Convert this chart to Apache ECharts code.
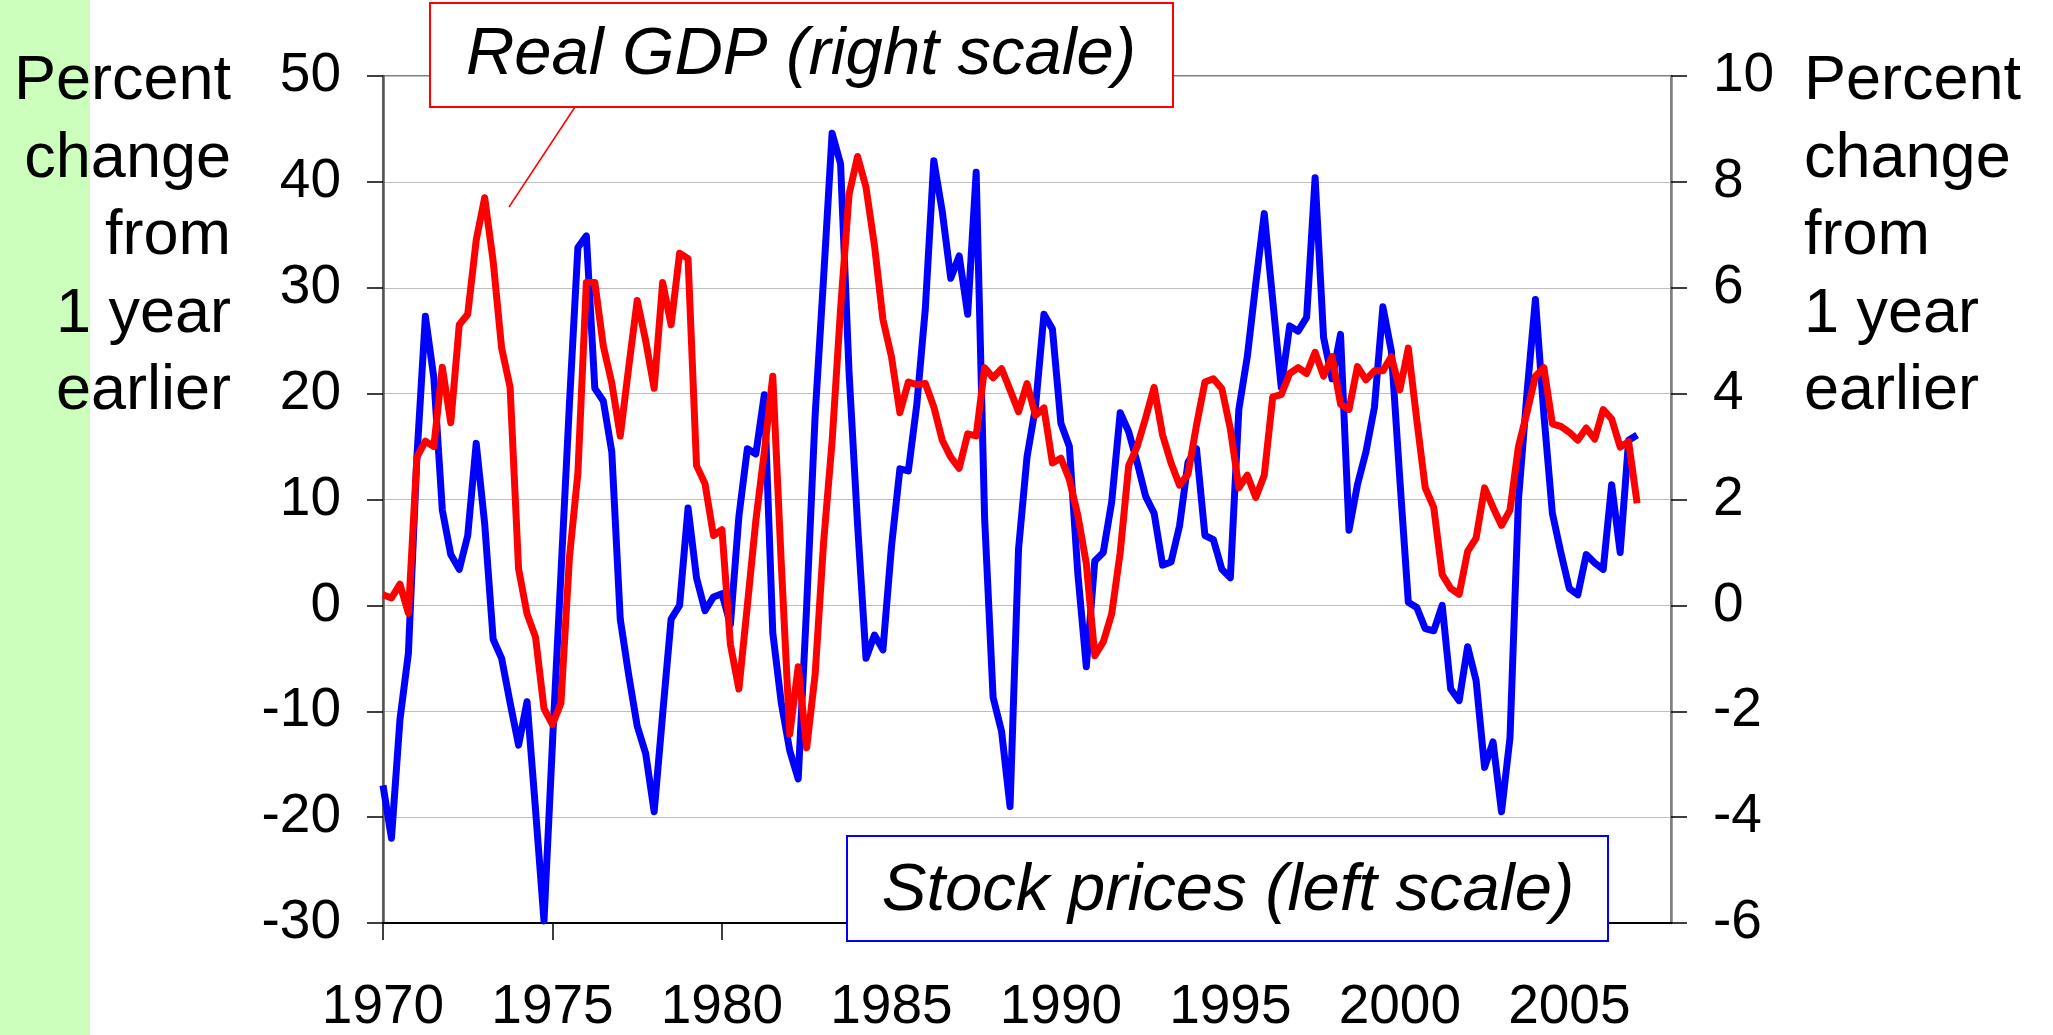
<!DOCTYPE html>
<html><head><meta charset="utf-8">
<script src="https://cdn.jsdelivr.net/npm/echarts@6/dist/echarts.min.js"></script>
<style>html,body{margin:0;padding:0;background:#fff}#c{width:2053px;height:1035px}</style>
</head><body><div id="c"></div>
<script>
// Quarterly categories 1970 Q1 .. 2008 Q1 (axis ends at 2008)
const firstYear = 1970, lastYear = 2008;
const quarters = [];
for (let y = firstYear; y <= lastYear; y++) {
  for (let q = 1; q <= 4; q++) {
    if (y === lastYear && q > 1) break;
    quarters.push(y + ' Q' + q);
  }
}
const yearTickEvery = 20; // label/tick every 5 years (20 quarters)

// Stock prices, percent change from 1 year earlier (left scale), 1970Q1..2007Q1
const stockPrices = [
  -17.0, -22.0, -10.8, -4.5, 14.0, 27.3, 21.5, 9.0, 4.8, 3.4,
  6.6, 15.3, 7.7, -3.2, -5.0, -9.2, -13.2, -9.1, -19.3, -29.8,
  -13.0, 3.0, 19.0, 33.8, 34.9, 20.5, 19.3, 14.5, -1.3, -6.6,
  -11.4, -14.0, -19.5, -10.3, -1.3, 0.0, 9.2, 2.6, -0.5, 0.8,
  1.1, -1.8, 8.4, 14.8, 14.3, 19.9, -2.6, -9.2, -13.7, -16.4,
  0.0, 18.0, 31.0, 44.6, 41.7, 22.0, 7.7, -5.0, -2.8, -4.2,
  5.5, 12.9, 12.7, 19.0, 28.0, 42.0, 37.2, 30.9, 33.0, 27.5,
  40.9, 8.2, -8.7, -11.9, -19.0, 5.3, 14.0, 18.7, 27.5, 26.1,
  17.2, 15.0, 3.0, -5.8, 4.2, 5.0, 9.8, 18.2, 16.4, 13.5,
  10.3, 8.7, 3.8, 4.1, 7.5, 13.5, 14.8, 6.6, 6.2, 3.4,
  2.6, 18.5, 23.5, 30.4, 37.0, 28.8, 20.6, 26.4, 25.9, 27.2,
  40.4, 25.3, 21.4, 25.6, 7.1, 11.4, 14.5, 18.7, 28.2, 24.0,
  11.9, 0.3, -0.2, -2.2, -2.4, 0.0, -7.9, -9.0, -3.9, -7.1,
  -15.3, -12.9, -19.5, -12.5, 10.0, 20.0, 28.9, 18.0, 8.7, 5.0,
  1.6, 1.0, 4.8, 4.0, 3.4, 11.4, 5.0, 15.6, 16.1
];

// Real GDP, percent change from 1 year earlier (right scale), 1970Q1..2007Q1
const realGDP = [
  0.2, 0.14, 0.4, -0.15, 2.8, 3.1, 3.0, 4.5, 3.45, 5.3,
  5.5, 6.9, 7.7, 6.5, 4.86, 4.12, 0.69, -0.16, -0.6, -1.95,
  -2.25, -1.85, 0.9, 2.5, 6.1, 6.1, 4.9, 4.2, 3.2, 4.5,
  5.76, 5.0, 4.1, 6.1, 5.3, 6.65, 6.55, 2.64, 2.3, 1.32,
  1.43, -0.74, -1.58, 0.0, 1.6, 2.9, 4.33, 0.8, -2.43, -1.16,
  -2.69, -1.3, 1.2, 3.1, 5.6, 7.76, 8.48, 7.9, 6.8, 5.4,
  4.7, 3.64, 4.22, 4.17, 4.19, 3.75, 3.12, 2.8, 2.59, 3.24,
  3.2, 4.49, 4.3, 4.47, 4.07, 3.66, 4.19, 3.59, 3.73, 2.69,
  2.78, 2.38, 1.7, 0.79, -0.95, -0.69, -0.16, 1.0, 2.64, 3.0,
  3.54, 4.12, 3.22, 2.69, 2.27, 2.48, 3.4, 4.22, 4.28, 4.09,
  3.33, 2.22, 2.46, 2.04, 2.46, 3.94, 3.98, 4.38, 4.49, 4.38,
  4.78, 4.33, 4.70, 3.8, 3.7, 4.51, 4.26, 4.43, 4.43, 4.70,
  4.07, 4.86, 3.5, 2.22, 1.85, 0.58, 0.32, 0.21, 1.02, 1.27,
  2.22, 1.85, 1.51, 1.80, 3.0, 3.64, 4.33, 4.49, 3.43, 3.38,
  3.27, 3.12, 3.35, 3.14, 3.70, 3.52, 2.99, 3.09, 1.93
];

const axisTitle = 'Percent\nchange\nfrom\n1 year\nearlier';
const gdpLabel = 'Real GDP (right scale)';
const stockLabel = 'Stock prices (left scale)';

const FONT = '"Liberation Sans", Arial, Helvetica, sans-serif';
const chart = echarts.init(document.getElementById('c'), null, {renderer: 'canvas'});

const tickStyle = {show: true, length: 16, lineStyle: {color: '#000', width: 1.5}};
const labelStyle = {color: '#000', fontSize: 55, fontFamily: FONT};

chart.setOption({
  animation: false,
  backgroundColor: '#ffffff',
  grid: {left: 383, right: 382, top: 76, height: 850, show: true,
         borderColor: '#808080', borderWidth: 2, backgroundColor: 'transparent'},
  xAxis: {
    type: 'category', data: quarters, boundaryGap: false,
    axisLine: {onZero: false, lineStyle: {color: '#000', width: 2}},
    axisTick: {show: true, length: 17, interval: (i) => i % yearTickEvery === 0,
               lineStyle: {color: '#000', width: 1.5}},
    axisLabel: Object.assign({}, labelStyle, {margin: 57,
               interval: (i) => i % yearTickEvery === 0,
               formatter: (v) => v.slice(0, 4)}),
    splitLine: {show: false}
  },
  yAxis: [
    {type: 'value', min: -30, max: 50, interval: 10, position: 'left',
     axisLine: {show: true, lineStyle: {color: '#555', width: 2.5}},
     axisTick: tickStyle,
     axisLabel: Object.assign({}, labelStyle, {margin: 42, padding: [10, 0, 0, 0]}),
     splitLine: {show: true, lineStyle: {color: '#bdbdbd', width: 1}}},
    {type: 'value', min: -6, max: 10, interval: 2, position: 'right',
     axisLine: {show: true, lineStyle: {color: '#808080', width: 2.5}},
     axisTick: tickStyle,
     axisLabel: Object.assign({}, labelStyle, {margin: 42, padding: [8, 0, 0, 0]}),
     splitLine: {show: false}}
  ],
  series: [
    {name: stockLabel, type: 'line', yAxisIndex: 0, data: stockPrices, showSymbol: false,
     lineStyle: {color: '#0000ff', width: 7, join: 'round'}, itemStyle: {color: '#0000ff'}, z: 2},
    {name: gdpLabel, type: 'line', yAxisIndex: 1, data: realGDP, showSymbol: false,
     lineStyle: {color: '#ff0000', width: 7, join: 'round'}, itemStyle: {color: '#ff0000'}, z: 3}
  ],
  graphic: [
    {type: 'rect', z: 0, shape: {x: 0, y: 0, width: 90, height: 1035}, style: {fill: '#ccffbb'}},
    {type: 'text', z: 10, x: 231, y: 43,
     style: {text: axisTitle, font: '63px ' + FONT, fill: '#000', align: 'right', textAlign: 'right',
             verticalAlign: 'top', textVerticalAlign: 'top', lineHeight: 77.5}},
    {type: 'text', z: 10, x: 1804, y: 43,
     style: {text: axisTitle, font: '63px ' + FONT, fill: '#000', align: 'left', textAlign: 'left',
             verticalAlign: 'top', textVerticalAlign: 'top', lineHeight: 77.5}},
    {type: 'line', z: 50, shape: {x1: 575, y1: 107, x2: 509, y2: 207},
     style: {stroke: '#ff0000', lineWidth: 1.5}},
    {type: 'rect', z: 50, shape: {x: 430, y: 3, width: 743, height: 104},
     style: {fill: '#fff', stroke: '#ff0000', lineWidth: 2}},
    {type: 'text', z: 51, x: 801, y: 55.5,
     style: {text: gdpLabel, font: 'italic 67px ' + FONT, fill: '#000', align: 'center', textAlign: 'center',
             verticalAlign: 'middle', textVerticalAlign: 'middle'}},
    {type: 'rect', z: 50, shape: {x: 847, y: 836, width: 761, height: 105},
     style: {fill: '#fff', stroke: '#0000ff', lineWidth: 2}},
    {type: 'text', z: 51, x: 1228, y: 891,
     style: {text: stockLabel, font: 'italic 67px ' + FONT, fill: '#000', align: 'center', textAlign: 'center',
             verticalAlign: 'middle', textVerticalAlign: 'middle'}}
  ]
});
</script>
</body></html>
